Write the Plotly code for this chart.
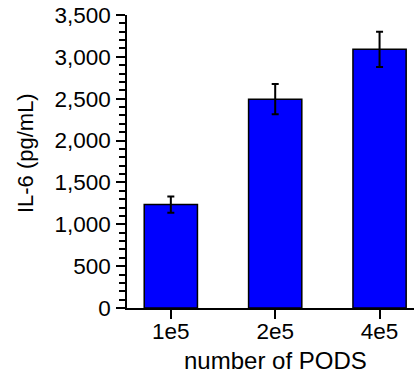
import plotly.graph_objects as go

categories = ["1e5", "2e5", "4e5"]
il6_mean = [1235, 2495, 3090]
il6_err = [97, 180, 210]
y_ticks = [0, 500, 1000, 1500, 2000, 2500, 3000, 3500]

FONT = "Liberation Sans, Arial, sans-serif"
x_pos = list(range(len(categories)))

fig = go.Figure(go.Bar(
    x=x_pos, y=il6_mean, width=0.51,
    marker=dict(color="#0000FF", line=dict(color="black", width=1.5)),
    error_y=dict(type="data", array=il6_err, visible=True, color="black",
                 thickness=2, width=3.5),
))

fig.update_layout(
    width=414, height=379,
    margin=dict(l=127, r=0, t=15, b=71, autoexpand=False),
    plot_bgcolor="white", paper_bgcolor="white",
    showlegend=False,
    font=dict(family=FONT, size=22, color="black"),
    xaxis=dict(
        range=[-0.42, 2.33], tickmode="array", tickvals=x_pos, ticktext=categories,
        showline=True, linecolor="black", linewidth=1.5, automargin=False,
        ticks="outside", ticklen=9, tickwidth=1.5, tickcolor="black",
        showgrid=False, zeroline=False, tickfont=dict(size=22.5),
        ticklabelstandoff=-7,
    ),
    yaxis=dict(
        range=[0, 3500], tickmode="array", tickvals=y_ticks,
        tickformat=",d", automargin=False,
        showline=True, linecolor="black", linewidth=1.5,
        ticks="outside", ticklen=9, tickwidth=1.5, tickcolor="black",
        minor=dict(dtick=100, ticks="outside", ticklen=6, tickwidth=1.5, tickcolor="black"),
        showgrid=False, zeroline=False, tickfont=dict(size=22.5),
        ticklabelstandoff=1,
    ),
    annotations=[
        dict(text="number of PODS", x=1, xref="x", y=-0.18, yref="paper",
             xanchor="center", yanchor="middle", showarrow=False,
             font=dict(size=24)),
        dict(text="IL-6 (pg/mL)", x=-0.355, xref="paper", y=0.529, yref="paper",
             textangle=-90, xanchor="center", yanchor="middle", showarrow=False,
             font=dict(size=22)),
    ],
    shapes=[
        dict(type="line", xref="x domain", x0=0, x1=0, yref="y", ysizemode="pixel",
             yanchor=0, y0=0, y1=-9, line=dict(color="black", width=1.5)),
    ],
)

fig.write_html("out.html", config={"displayModeBar": False},
               post_script="document.body.style.margin='0px';")
